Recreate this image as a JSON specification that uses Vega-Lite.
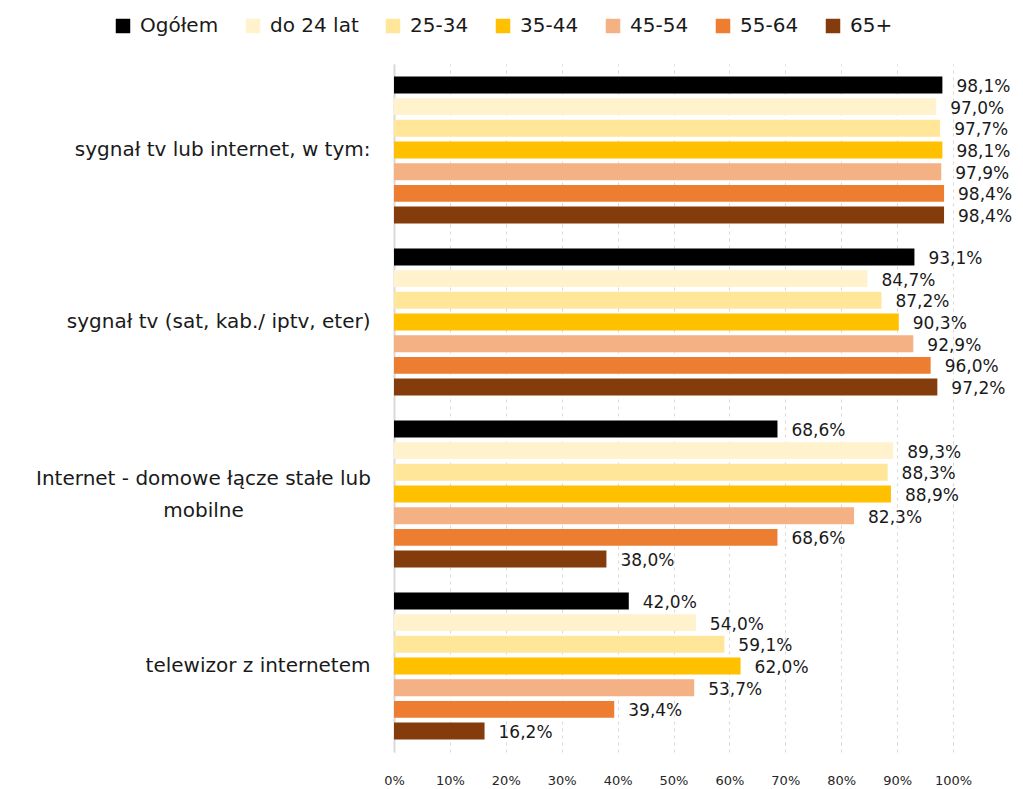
{
  "$schema": "https://vega.github.io/schema/vega-lite/v6.json",
  "width": 559,
  "height": 688,
  "autosize": {"type": "none"},
  "padding": {"left": 394, "top": 64, "right": 70, "bottom": 37},
  "background": "white",
  "config": {
    "font": "DejaVu Sans",
    "view": {"stroke": null},
    "locale": {"number": {"decimal": ",", "thousands": " ", "grouping": [3], "currency": ["", " zł"]}}
  },
  "data": {
    "values": [
      {"cat": "sygnał tv lub internet, w tym:", "grp": "Ogółem", "v": 0.981},
      {"cat": "sygnał tv lub internet, w tym:", "grp": "do 24 lat", "v": 0.970},
      {"cat": "sygnał tv lub internet, w tym:", "grp": "25-34", "v": 0.977},
      {"cat": "sygnał tv lub internet, w tym:", "grp": "35-44", "v": 0.981},
      {"cat": "sygnał tv lub internet, w tym:", "grp": "45-54", "v": 0.979},
      {"cat": "sygnał tv lub internet, w tym:", "grp": "55-64", "v": 0.984},
      {"cat": "sygnał tv lub internet, w tym:", "grp": "65+", "v": 0.984},
      {"cat": "sygnał tv (sat, kab./ iptv, eter)", "grp": "Ogółem", "v": 0.931},
      {"cat": "sygnał tv (sat, kab./ iptv, eter)", "grp": "do 24 lat", "v": 0.847},
      {"cat": "sygnał tv (sat, kab./ iptv, eter)", "grp": "25-34", "v": 0.872},
      {"cat": "sygnał tv (sat, kab./ iptv, eter)", "grp": "35-44", "v": 0.903},
      {"cat": "sygnał tv (sat, kab./ iptv, eter)", "grp": "45-54", "v": 0.929},
      {"cat": "sygnał tv (sat, kab./ iptv, eter)", "grp": "55-64", "v": 0.960},
      {"cat": "sygnał tv (sat, kab./ iptv, eter)", "grp": "65+", "v": 0.972},
      {"cat": "Internet - domowe łącze stałe lub mobilne", "grp": "Ogółem", "v": 0.686},
      {"cat": "Internet - domowe łącze stałe lub mobilne", "grp": "do 24 lat", "v": 0.893},
      {"cat": "Internet - domowe łącze stałe lub mobilne", "grp": "25-34", "v": 0.883},
      {"cat": "Internet - domowe łącze stałe lub mobilne", "grp": "35-44", "v": 0.889},
      {"cat": "Internet - domowe łącze stałe lub mobilne", "grp": "45-54", "v": 0.823},
      {"cat": "Internet - domowe łącze stałe lub mobilne", "grp": "55-64", "v": 0.686},
      {"cat": "Internet - domowe łącze stałe lub mobilne", "grp": "65+", "v": 0.380},
      {"cat": "telewizor z internetem", "grp": "Ogółem", "v": 0.420},
      {"cat": "telewizor z internetem", "grp": "do 24 lat", "v": 0.540},
      {"cat": "telewizor z internetem", "grp": "25-34", "v": 0.591},
      {"cat": "telewizor z internetem", "grp": "35-44", "v": 0.620},
      {"cat": "telewizor z internetem", "grp": "45-54", "v": 0.537},
      {"cat": "telewizor z internetem", "grp": "55-64", "v": 0.394},
      {"cat": "telewizor z internetem", "grp": "65+", "v": 0.162}
    ]
  },
  "encoding": {
    "y": {
      "field": "cat",
      "type": "nominal",
      "sort": null,
      "scale": {"paddingInner": 0.12, "paddingOuter": 0.06},
      "axis": {
        "title": null,
        "ticks": false,
        "domainColor": "#d9d9d9",
        "domainWidth": 2,
        "labelFontSize": 20,
        "labelColor": "#1a1a1a",
        "labelPadding": {"condition": {"test": "datum.value == 'Internet - domowe łącze stałe lub mobilne'", "value": 191}, "value": 24},
        "labelAlign": {"condition": {"test": "datum.value == 'Internet - domowe łącze stałe lub mobilne'", "value": "center"}, "value": "right"},
        "labelLimit": 500,
        "labelLineHeight": 32,
        "labelOffset": {"condition": {"test": "datum.value == 'Internet - domowe łącze stałe lub mobilne'", "value": -15}, "value": 0},
        "labelExpr": "datum.value == 'Internet - domowe łącze stałe lub mobilne' ? ['Internet - domowe łącze stałe lub', 'mobilne'] : datum.value"
      }
    },
    "yOffset": {
      "field": "grp",
      "type": "nominal",
      "sort": ["Ogółem", "do 24 lat", "25-34", "35-44", "45-54", "55-64", "65+"],
      "scale": {"paddingInner": 0.22, "paddingOuter": 0.1}
    },
    "x": {
      "field": "v",
      "type": "quantitative",
      "scale": {"domain": [0, 1]},
      "axis": {
        "title": null,
        "format": ".0%",
        "values": [0, 0.1, 0.2, 0.3, 0.4, 0.5, 0.6, 0.7, 0.8, 0.9, 1],
        "labelOverlap": false,
        "labelFlush": false,
        "domain": false,
        "ticks": false,
        "grid": true,
        "gridColor": "#d9d9d9",
        "gridDash": [3, 4],
        "gridWidth": 1,
        "labelFontSize": 13,
        "labelColor": "#262626",
        "labelPadding": 22
      }
    }
  },
  "layer": [
    {
      "mark": {"type": "bar"},
      "encoding": {
        "color": {
          "field": "grp",
          "type": "nominal",
          "scale": {
            "domain": ["Ogółem", "do 24 lat", "25-34", "35-44", "45-54", "55-64", "65+"],
            "range": ["#000000", "#FFF2CC", "#FFE699", "#FFC000", "#F4B183", "#ED7D31", "#843C0C"]
          },
          "legend": {
            "title": null,
            "orient": "none",
            "legendX": -281,
            "legendY": -48,
            "direction": "horizontal",
            "symbolType": "square",
            "symbolSize": 210,
            "symbolStrokeWidth": 0,
            "labelFontSize": 20,
            "labelColor": "#1a1a1a",
            "labelOffset": 7,
            "columnPadding": 24
          }
        }
      }
    },
    {
      "mark": {"type": "text", "align": "left", "baseline": "middle", "dx": 14, "dy": 2, "fontSize": 17, "color": "#1a1a1a"},
      "encoding": {
        "text": {"field": "v", "type": "quantitative", "format": ".1%"}
      }
    }
  ]
}
